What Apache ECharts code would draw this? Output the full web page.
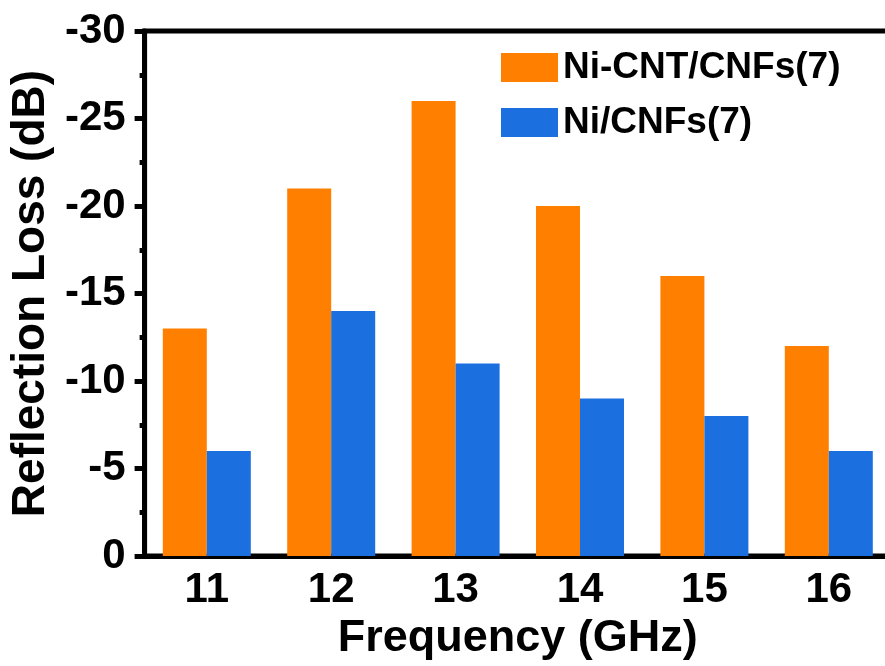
<!DOCTYPE html>
<html>
<head>
<meta charset="utf-8">
<script src="https://cdn.jsdelivr.net/npm/echarts@6/dist/echarts.min.js"></script>
<style>
  html, body { margin: 0; padding: 0; background: #fff; overflow: hidden; }
</style>
</head>
<body>
<!-- plot area runs past the right edge of the window, like the cropped original -->
<div id="chart" style="width: 900px; height: 666px;"></div>
<script>
const frequencies = ['11', '12', '13', '14', '15', '16'];
const niCntCnfs = [-13, -21, -26, -20, -16, -12];
const niCnfs = [-6, -14, -11, -9, -8, -6];

const font = 'Arial, "Liberation Sans", sans-serif';
const myChart = echarts.init(document.getElementById('chart'));

const option = {
  animation: false,
  textStyle: { fontFamily: font },
  grid: {
    left: 141,
    top: 31,
    right: 9,
    bottom: 109,
    show: true,
    borderColor: '#000',
    borderWidth: 5
  },
  legend: {
    orient: 'vertical',
    left: 496,
    top: 44,
    icon: 'rect',
    itemWidth: 57,
    itemHeight: 29,
    itemGap: 18,
    textStyle: {
      fontFamily: font,
      fontSize: 37,
      fontWeight: 'bold',
      color: '#000',
      lineHeight: 29
    },
    data: ['Ni-CNT/CNFs(7)', 'Ni/CNFs(7)']
  },
  xAxis: [
    {
      type: 'category',
      data: frequencies,
      name: 'Frequency (GHz)',
      nameLocation: 'middle',
      nameGap: 50,
      nameTextStyle: { fontFamily: font, fontSize: 45, fontWeight: 'bold', color: '#000' },
      axisLine: { lineStyle: { color: '#000', width: 5 } },
      axisTick: { alignWithLabel: true, length: 10, lineStyle: { color: '#000', width: 5 } },
      axisLabel: { fontFamily: font, fontSize: 42, fontWeight: 'bold', color: '#000', margin: 13 }
    },
    {
      // minor ticks between the categories
      type: 'category',
      data: frequencies,
      position: 'bottom',
      axisLine: { show: false },
      axisTick: { length: 5, lineStyle: { color: '#000', width: 5 } },
      axisLabel: { show: false }
    }
  ],
  yAxis: {
    type: 'value',
    inverse: true,
    min: -30,
    max: 0,
    interval: 5,
    name: 'Reflection Loss (dB)',
    nameLocation: 'middle',
    nameGap: 86,
    nameTextStyle: { fontFamily: font, fontSize: 46, fontWeight: 'bold', color: '#000' },
    axisLine: { show: true, lineStyle: { color: '#000', width: 5 } },
    axisTick: { show: true, length: 10, lineStyle: { color: '#000', width: 5 } },
    minorTick: { show: true, splitNumber: 2, length: 5, lineStyle: { color: '#000', width: 5 } },
    splitLine: { show: false },
    axisLabel: { fontFamily: font, fontSize: 42, fontWeight: 'bold', color: '#000', margin: 19 }
  },
  series: [
    {
      name: 'Ni-CNT/CNFs(7)',
      type: 'bar',
      barWidth: 44,
      barGap: '0%',
      itemStyle: { color: '#FF8000' },
      data: niCntCnfs
    },
    {
      name: 'Ni/CNFs(7)',
      type: 'bar',
      barWidth: 44,
      barGap: '0%',
      itemStyle: { color: '#1B6FDF' },
      data: niCnfs
    }
  ]
};

myChart.setOption(option);
</script>
</body>
</html>
